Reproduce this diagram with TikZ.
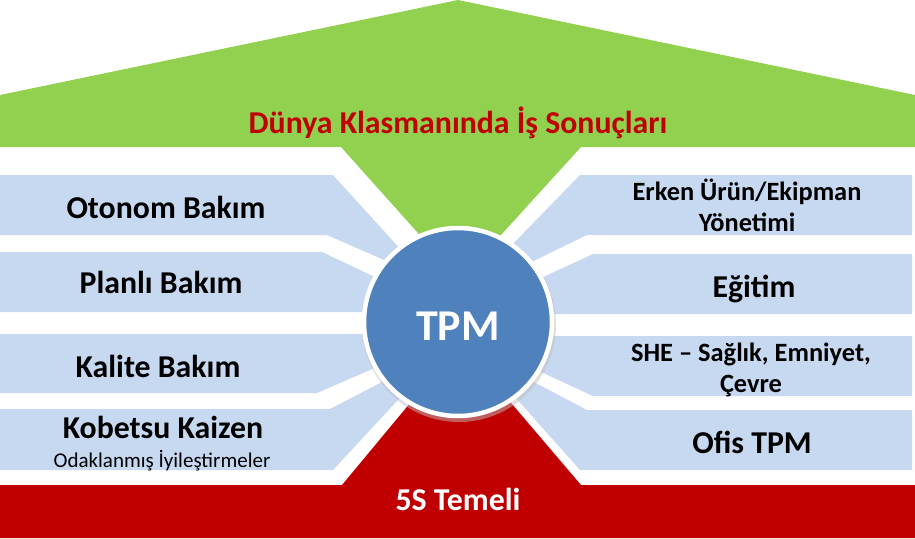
\documentclass[tikz,border=0pt]{standalone}
\usepackage{fontspec}
\setmainfont{Carlito}
\definecolor{roofgreen}{HTML}{92D050}
\definecolor{bandblue}{HTML}{C6D9F1}
\definecolor{tpmblue}{HTML}{4F81BD}
\definecolor{basered}{HTML}{C00000}
\tikzset{
  band/.style={fill=bandblue, draw=none},
  bigtxt/.style={anchor=base, font=\bfseries\fontsize{31.8}{34}\selectfont, text=black, inner sep=0pt},
  midtxt/.style={anchor=base, font=\bfseries\fontsize{26.4}{28}\selectfont, text=black, inner sep=0pt},
  smalltxt/.style={anchor=base, font=\fontsize{21}{23}\selectfont, text=black, inner sep=0pt},
}
\begin{document}
\begin{tikzpicture}[x=1pt,y=-1pt]
\useasboundingbox (0,0) rectangle (915,538);
% green roof
\fill[roofgreen] (0,95) -- (458,0) -- (915,95) -- (915,147) -- (581,147) -- (460,280) -- (341,147) -- (0,147) -- cycle;
% red base
\fill[basered] (0,485) -- (342,485) -- (460,343) -- (581,485) -- (915,485) -- (915,538) -- (0,538) -- cycle;
% left bands
\fill[band] (0,175) -- (333,175) -- (413,263) -- (400,267) -- (327,235) -- (0,235) -- cycle;
\fill[band] (0,252) -- (322,252) -- (400,289) -- (400,312) -- (0,312) -- cycle;
\fill[band] (0,334) -- (400,334) -- (400,357) -- (317,393) -- (0,393) -- cycle;
\fill[band] (0,409) -- (330,409) -- (405,370) -- (410,387) -- (333,470) -- (0,470) -- cycle;
% right bands
\fill[band] (580,175) -- (912,175) -- (912,235) -- (587,235) -- (515,270) -- (505,252) -- cycle;
\fill[band] (593,254) -- (912,254) -- (912,314) -- (515,314) -- (515,290) -- cycle;
\fill[band] (515,336) -- (912,336) -- (912,396) -- (593,396) -- (515,360) -- cycle;
\fill[band] (511,370) -- (587,410) -- (912,410) -- (912,470) -- (580,470) -- (506,387) -- cycle;
% circle
\fill[black!25, opacity=0.5] (459,325) circle (97);
\node[circle, fill=tpmblue, draw=white, line width=4.5pt, minimum size=188pt, inner sep=0pt] (tpm) at (458,322) {};
\node[anchor=base, font=\bfseries\fontsize{44}{46}\selectfont, text=white, inner sep=0pt] (tpmtxt) at (458,340) {TPM};
% texts
\node[anchor=base, font=\bfseries\fontsize{31.8}{34}\selectfont, text=basered, inner sep=0pt] (title) at (458,133) {Dünya Klasmanında İş Sonuçları};
\node[anchor=base, font=\bfseries\fontsize{31.8}{34}\selectfont, text=white, inner sep=0pt] (base) at (458,510) {5S Temeli};
\node[bigtxt] (l1) at (166,218) {Otonom Bakım};
\node[bigtxt] (l2) at (161,293) {Planlı Bakım};
\node[bigtxt] (l3) at (158,377) {Kalite Bakım};
\node[bigtxt] (l4) at (163,438) {Kobetsu Kaizen};
\node[smalltxt] (l4b) at (162,467) {Odaklanmış İyileştirmeler};
\node[midtxt] (r1a) at (747,200) {Erken Ürün/Ekipman};
\node[midtxt] (r1b) at (747,231) {Yönetimi};
\node[bigtxt] (r2) at (754,297) {Eğitim};
\node[midtxt] (r3a) at (751,361) {SHE – Sağlık, Emniyet,};
\node[midtxt] (r3b) at (751,392) {Çevre};
\node[bigtxt] (r4) at (752,453) {Ofis TPM};
\end{tikzpicture}
\end{document}
